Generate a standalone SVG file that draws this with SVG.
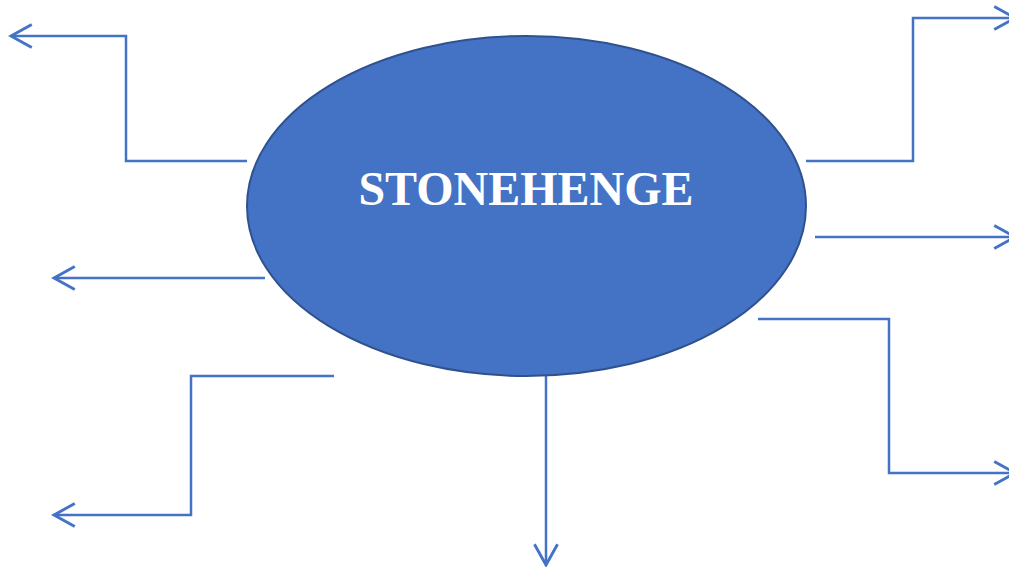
<svg xmlns="http://www.w3.org/2000/svg" width="1009" height="567" viewBox="0 0 1009 567">
<style>
.conn{fill:none;stroke:#4472C4;stroke-width:2.5;stroke-linejoin:miter}
.label{font-family:"Liberation Serif","Times New Roman",serif;font-weight:bold;font-size:48px;fill:#FFFFFF}
</style>
<defs>
<marker id="arr" markerUnits="userSpaceOnUse" markerWidth="30" markerHeight="30" viewBox="-22 -12 26 24" refX="0" refY="0" orient="auto" overflow="visible">
<path d="M -18 -10 L 0 0 L -18 10" fill="none" stroke="#4472C4" stroke-width="2.5"/>
</marker>
</defs>
<rect width="1009" height="567" fill="#FFFFFF"/>
<g id="connectors">
<polyline class="conn" points="247,161 126,161 126,36 11,36" marker-end="url(#arr)"/>
<polyline class="conn" points="265,278 54,278" marker-end="url(#arr)"/>
<polyline class="conn" points="334,376 191,376 191,515 54,515" marker-end="url(#arr)"/>
<polyline class="conn" points="546,376 546,565" marker-end="url(#arr)"/>
<polyline class="conn" points="806,161 913,161 913,18 1015,18" marker-end="url(#arr)"/>
<polyline class="conn" points="815,237 1015,237" marker-end="url(#arr)"/>
<polyline class="conn" points="758,319 889,319 889,473 1015,473" marker-end="url(#arr)"/>
</g>
<g id="stonehenge">
<ellipse cx="526.5" cy="206" rx="279.5" ry="170" fill="#4472C4" stroke="#2F528F" stroke-width="2"/>
<text class="label" x="526" y="205" text-anchor="middle">STONEHENGE</text>
</g>
</svg>
